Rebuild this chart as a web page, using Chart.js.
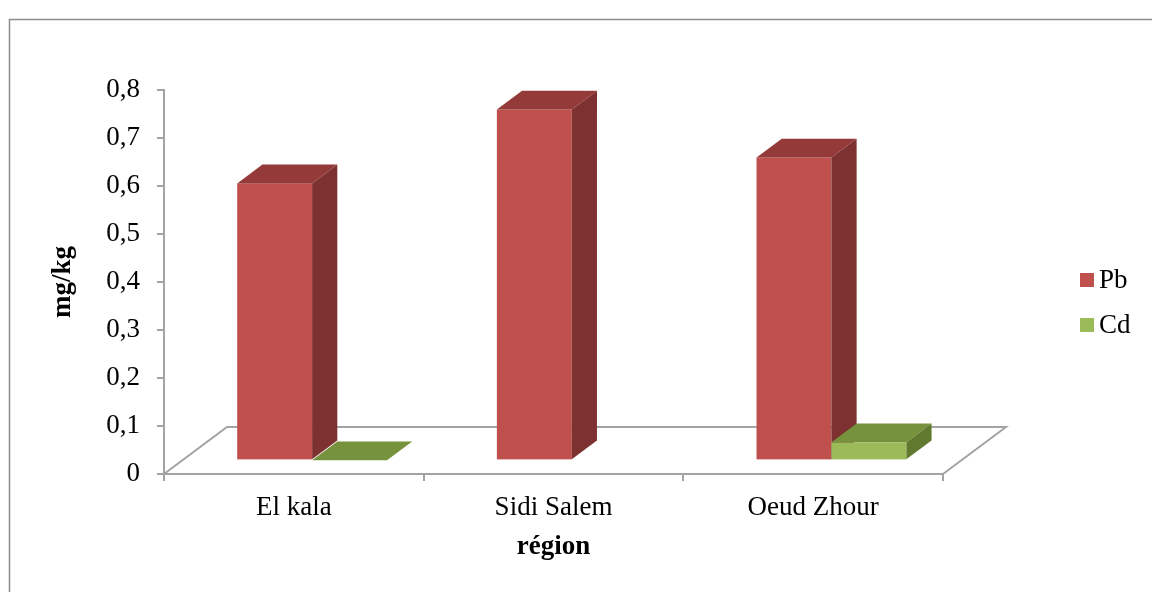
<!DOCTYPE html>
<html>
<head>
<meta charset="utf-8">
<script src="https://cdn.jsdelivr.net/npm/chart.js@4"></script>
<style>
  html, body { margin: 0; padding: 0; background: #fff; }
  #wrap { position: relative; width: 1152px; height: 592px; }
</style>
</head>
<body>
<div id="wrap"><canvas id="chart" width="1152" height="592"></canvas></div>
<script>
// Data
const regions = ['El kala', 'Sidi Salem', 'Oeud Zhour'];
const pbValues = [0.577, 0.731, 0.631];
const cdValues = [0, null, 0.0375];
const yTickLabels = ['0', '0,1', '0,2', '0,3', '0,4', '0,5', '0,6', '0,7', '0,8'];

const serif = "'Liberation Serif', 'Times New Roman', serif";
const axisGray = '#a3a3a3';

// faces: front, top, side
const pbFaces = ['#c0504d', '#943b39', '#7d3131'];
const cdFaces = ['#9bbb59', '#76923c', '#617a30'];

// floor depth vector, bar sits inside it
const floorDX = 63, floorDY = -47;
const frontFrac = 0.29, depthFrac = 0.40;

const floorAndBars = {
    id: 'floorAndBars',
    beforeDatasetsDraw(chart) {
        const { ctx, chartArea } = chart;
        const l = chartArea.left, r = chartArea.right, b = chartArea.bottom;
        ctx.save();
        ctx.strokeStyle = axisGray;
        ctx.lineWidth = 2;
        ctx.beginPath();
        ctx.moveTo(l, b);
        ctx.lineTo(l + floorDX, b + floorDY);
        ctx.lineTo(r + floorDX, b + floorDY);
        ctx.lineTo(r, b);
        ctx.stroke();
        ctx.restore();
    },
    afterDatasetsDraw(chart) {
        const ctx = chart.ctx;
        const fx = floorDX * frontFrac, fy = floorDY * frontFrac;
        const dx = floorDX * depthFrac, dy = floorDY * depthFrac;
        const metas = chart.data.datasets.map((d, i) => chart.getDatasetMeta(i));
        ctx.save();
        for (let j = 0; j < regions.length; j++) {
            metas.forEach((meta, i) => {
                const v = chart.data.datasets[i].data[j];
                if (v === null || v === undefined) return;
                const el = meta.data[j];
                const faces = chart.data.datasets[i].faces;
                const x0 = el.x - el.width / 2 + fx, x1 = el.x + el.width / 2 + fx;
                const yt = el.y + fy, yb = el.base + fy;
                // front
                ctx.fillStyle = faces[0];
                ctx.fillRect(x0, yt, x1 - x0, yb - yt);
                // top
                ctx.fillStyle = faces[1];
                ctx.beginPath();
                ctx.moveTo(x0, yt);
                ctx.lineTo(x1, yt);
                ctx.lineTo(x1 + dx, yt + dy);
                ctx.lineTo(x0 + dx, yt + dy);
                ctx.closePath();
                ctx.fill();
                // side
                ctx.fillStyle = faces[2];
                ctx.beginPath();
                ctx.moveTo(x1, yt);
                ctx.lineTo(x1 + dx, yt + dy);
                ctx.lineTo(x1 + dx, yb + dy);
                ctx.lineTo(x1, yb);
                ctx.closePath();
                ctx.fill();
            });
        }
        ctx.restore();
    },
    afterDraw(chart) {
        const ctx = chart.ctx;
        ctx.save();
        // outer frame
        ctx.strokeStyle = '#8c8c8c';
        ctx.lineWidth = 1.5;
        ctx.strokeRect(9.5, 19.5, 1200, 700);
        // legend
        ctx.font = '27px ' + serif;
        ctx.textBaseline = 'middle';
        ctx.fillStyle = '#000';
        chart.data.datasets.forEach((ds, i) => {
            const y = 273 + i * 45;
            ctx.fillStyle = ds.faces[0];
            ctx.fillRect(1080, y, 14, 14);
            ctx.fillStyle = '#000';
            ctx.fillText(ds.label, 1099, y + 8);
        });
        ctx.restore();
    }
};

new Chart(document.getElementById('chart'), {
    type: 'bar',
    data: {
        labels: regions,
        datasets: [
            { label: 'Pb', data: pbValues, faces: pbFaces, backgroundColor: 'rgba(0,0,0,0)' },
            { label: 'Cd', data: cdValues, faces: cdFaces, backgroundColor: 'rgba(0,0,0,0)' }
        ]
    },
    options: {
        responsive: false,
        animation: false,
        devicePixelRatio: 1,
        categoryPercentage: 0.577,
        barPercentage: 1,
        layout: { padding: { top: 90, right: 209, left: 0, bottom: 0 } },
        plugins: {
            legend: { display: false },
            tooltip: { enabled: false }
        },
        scales: {
            x: {
                afterFit: s => { s.height = 118; },
                grid: { drawOnChartArea: false, drawTicks: true, tickLength: 7, color: axisGray, lineWidth: 2 },
                border: { display: true, color: axisGray, width: 2 },
                ticks: { color: '#000', font: { family: serif, size: 27 }, padding: 11 },
                title: { display: true, text: 'région', color: '#000', font: { family: serif, size: 27, weight: 'bold' }, padding: { bottom: 29 } }
            },
            y: {
                min: 0,
                max: 0.8,
                afterFit: s => { s.width = 164; },
                grid: { drawOnChartArea: false, drawTicks: true, tickLength: 7, color: axisGray, lineWidth: 2 },
                border: { display: true, color: axisGray, width: 2 },
                ticks: {
                    stepSize: 0.1,
                    color: '#000',
                    font: { family: serif, size: 27 },
                    padding: 17,
                    callback: v => yTickLabels[Math.round(v * 10)]
                },
                title: { display: true, text: 'mg/kg', color: '#000', font: { family: serif, size: 27, weight: 'bold' }, padding: { top: 47 } }
            }
        }
    },
    plugins: [floorAndBars]
});
</script>
</body>
</html>
